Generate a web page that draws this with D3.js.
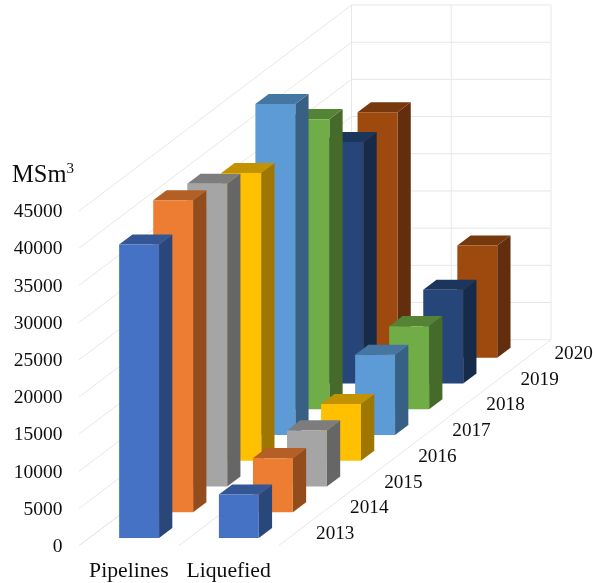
<!DOCTYPE html>
<html>
<head>
<meta charset="utf-8">
<script src="https://cdn.jsdelivr.net/npm/d3@7"></script>
<style>
html,body{margin:0;padding:0;background:#fff;}
svg{display:block;}
text{font-family:"Liberation Serif","Times New Roman",serif;fill:#111;}
</style>
</head>
<body>
<svg id="chart" width="593" height="583"></svg>
<script>
const years = ["2013","2014","2015","2016","2017","2018","2019","2020"];
const seriesNames = ["Pipelines","Liquefied"];
const pipelines = [39450,41950,40700,38680,44500,39000,32450,33000];
const liquefied = [5830,7270,7540,7620,10770,11170,12610,15080];
const colors = ["#4472C4","#ED7D31","#A5A5A5","#FFC000","#5B9BD5","#70AD47","#264478","#9E480E"];
const valueTicks = [0,5000,10000,15000,20000,25000,30000,35000,40000,45000];

const svg = d3.select("#chart");
const floorY = 545.7, originX = 79;

// soft edges, as in the reference image
const soft = svg.append("defs").append("filter").attr("id","soft")
  .attr("filterUnits","userSpaceOnUse").attr("x",0).attr("y",0).attr("width",593).attr("height",583);
soft.append("feGaussianBlur").attr("stdDeviation",0.35);
const root = svg.append("g").attr("filter","url(#soft)");

// three projected axes: series across, year in depth, value upward
const sx = d3.scaleLinear().domain([0,2]).range([0,199.5]);
const dx = d3.scaleLinear().domain([0,8]).range([0,272.5]);
const dy = d3.scaleLinear().domain([0,8]).range([0,-206]);
const vy = d3.scaleLinear().domain([0,45000]).range([0,334.7]);

const P = (s,d,v)=>[originX+sx(s)+dx(d), floorY+dy(d)-vy(v)];
const poly = pts => pts.map(p=>p.join(",")).join(" ");

const grid = root.append("g").attr("fill","none").attr("stroke","#e7e7e7").attr("stroke-width",1);
function seg(a,b){ grid.append("line").attr("x1",a[0]).attr("y1",a[1]).attr("x2",b[0]).attr("y2",b[1]); }
valueTicks.forEach(v=>{
  seg(P(0,0,v),P(0,8,v));
  seg(P(0,8,v),P(2,8,v));
});
[0,1,2].forEach(s=>{
  seg(P(s,0,0),P(s,8,0));
  seg(P(s,8,0),P(s,8,45000));
});

// bar footprint within one series / year cell
const barS0 = 0.30, barS1 = 0.70, barD0 = 0.30, barD1 = 0.69;
const shade = (c,k)=>{const r=d3.rgb(c);return d3.rgb(r.r*k,r.g*k,r.b*k).formatHex();};

const bars = root.append("g");
d3.range(years.length-1,-1,-1).forEach(i=>{
  [pipelines,liquefied].forEach((vals,si)=>{
    const v = vals[i], c = colors[i];
    const s0=si+barS0, s1=si+barS1, d0=i+barD0, d1=i+barD1;
    const g = bars.append("g");
    g.append("polygon").attr("fill",shade(c,0.62))
      .attr("points",poly([P(s1,d0,0),P(s1,d1,0),P(s1,d1,v),P(s1,d0,v)]));
    g.append("polygon").attr("fill",shade(c,0.76))
      .attr("points",poly([P(s0,d0,v),P(s1,d0,v),P(s1,d1,v),P(s0,d1,v)]));
    g.append("polygon").attr("fill",c)
      .attr("points",poly([P(s0,d0,0),P(s1,d0,0),P(s1,d0,v),P(s0,d0,v)]));
  });
});

// value axis labels
root.append("g").selectAll("text").data(valueTicks).join("text")
  .attr("x",62.5).attr("y",d=>P(0,0,d)[1]+6.3)
  .attr("text-anchor","end").attr("font-size",19.5)
  .text(d=>d);

// unit title
const unit = root.append("text").attr("x",12).attr("y",182).attr("font-size",24.5);
unit.append("tspan").text("MSm");
unit.append("tspan").attr("font-size",15).attr("dy",-9).text("3");

// series labels
root.append("g").selectAll("text").data(seriesNames).join("text")
  .attr("x",(d,i)=>P(i+0.5,0,0)[0]).attr("y",577)
  .attr("text-anchor","middle").attr("font-size",21.7)
  .text(d=>d);

// year labels along the depth axis
root.append("g").selectAll("text").data(years).join("text")
  .attr("x",(d,i)=>P(2,i+0.5,0)[0]+20.5).attr("y",(d,i)=>P(2,i+0.5,0)[1]+6.2)
  .attr("font-size",19.2)
  .text(d=>d);
</script>
</body>
</html>
